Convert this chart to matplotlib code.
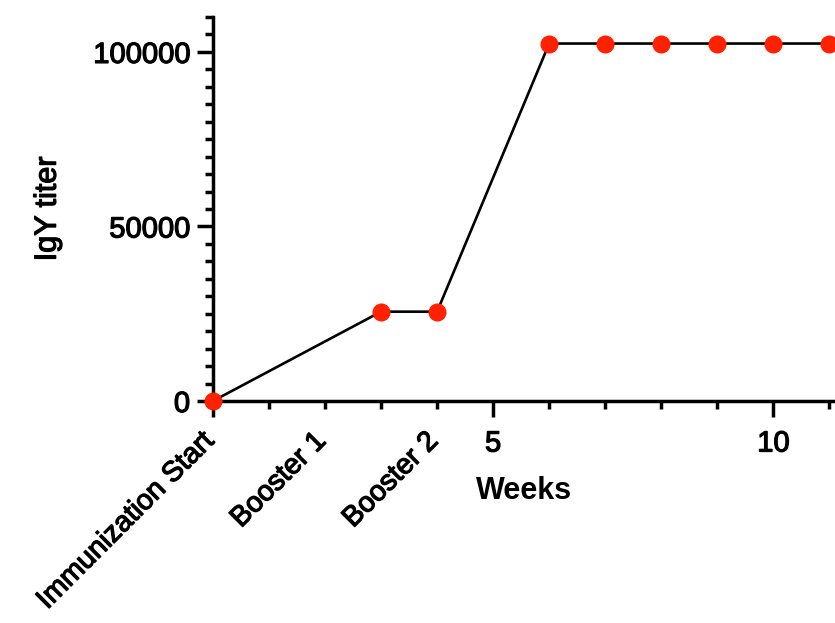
import matplotlib
matplotlib.use("Agg")
import matplotlib.pyplot as plt
import matplotlib.patheffects as pe
from matplotlib.ticker import MultipleLocator
import matplotlib.transforms as mtransforms

weeks = [0, 3, 4, 6, 7, 8, 9, 10, 11]
titer = [0, 25600, 25600, 102400, 102400, 102400, 102400, 102400, 102400]

event_labels = ["Immunization Start", "Booster 1", "Booster 2"]
event_weeks = [0, 2, 4]

plt.rcParams.update({
    "font.family": ["Liberation Sans", "DejaVu Sans"],
    "font.size": 21,
})

# slightly heavier strokes for the regular-weight text
heavy = [pe.withStroke(linewidth=0.9, foreground="black")]

fig = plt.figure(figsize=(8.35, 6.23), dpi=100)
ax = fig.add_axes([0.255, 0.3563, 0.745, 0.6164])

ax.plot(weeks, titer, color="black", lw=1.9, marker="o", ms=12,
        mfc="#ff2200", mec="#ff2200", clip_on=False, zorder=3)

ax.set_xlim(0, 11.1)
ax.set_ylim(0, 110000)
ax.set_xticks([0, 5, 10], ["", "5", "10"])
ax.xaxis.set_minor_locator(MultipleLocator(1))
ax.set_yticks([0, 50000, 100000])
ax.yaxis.set_minor_locator(MultipleLocator(5000))

for s in ("top", "right"):
    ax.spines[s].set_visible(False)
for s in ("left", "bottom"):
    ax.spines[s].set_linewidth(2.5)

ax.tick_params(which="major", length=11.5, width=2.5, labelsize=21)
ax.tick_params(axis="y", which="major", pad=5)
ax.tick_params(axis="x", which="major", pad=9)
ax.tick_params(which="minor", length=6, width=2.5)
for lab in ax.get_xticklabels() + ax.get_yticklabels():
    lab.set_path_effects(heavy)

ax.set_xlabel("Weeks", fontsize=22, fontweight="bold", labelpad=13)
ax.set_ylabel("IgY titer", fontsize=22, labelpad=22, path_effects=heavy)

trans = mtransforms.blended_transform_factory(ax.transData, ax.transAxes)
for lab, x in zip(event_labels, event_weeks):
    ax.annotate(lab, xy=(x, 0), xycoords=trans, xytext=(-12, -27),
                textcoords="offset pixels", rotation=45, ha="right",
                va="top", rotation_mode="anchor", fontsize=20.5,
                path_effects=heavy)

fig.savefig("out.png", dpi=100)
